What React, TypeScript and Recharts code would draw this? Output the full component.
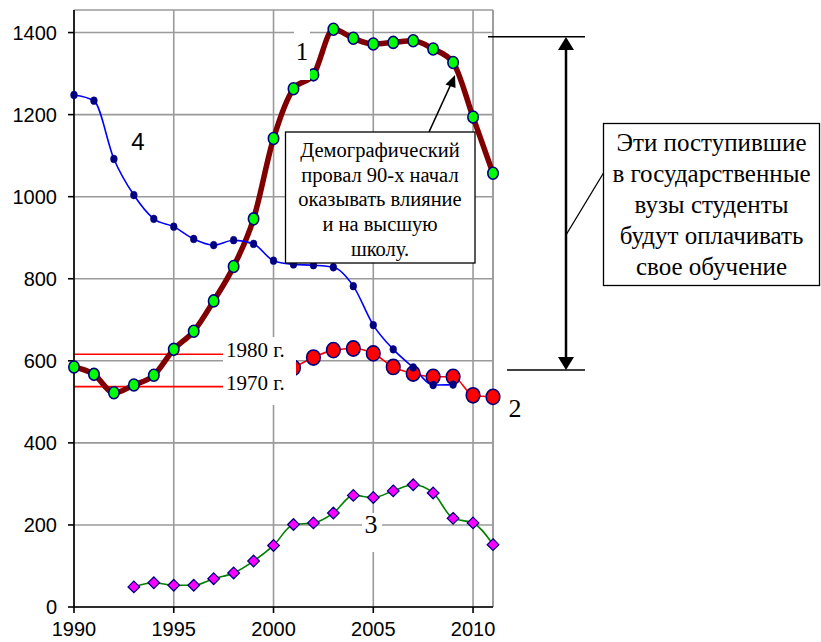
import React from "react";
import {
  LineChart,
  Line,
  XAxis,
  YAxis,
  CartesianGrid,
  ReferenceLine,
} from "recharts";

const years = [1990, 1991, 1992, 1993, 1994, 1995, 1996, 1997, 1998, 1999, 2000, 2001, 2002, 2003, 2004, 2005, 2006, 2007, 2008, 2009, 2010, 2011];
const series1 = [585, 567, 522, 541, 565, 628, 672, 746, 830, 946, 1142, 1263, 1297, 1408, 1386, 1372, 1376, 1380, 1360, 1327, 1194, 1057];
const series2 = [null, null, null, null, null, null, null, null, null, null, null, 583, 608, 626, 630, 618, 585, 569, 561, 561, 516, 512];
const series3 = [null, null, null, 49, 59, 53, 53, 69, 83, 112, 150, 201, 205, 229, 272, 267, 283, 298, 278, 216, 205, 152];
const series4 = [1248, 1234, 1092, 1004, 946, 927, 897, 882, 894, 885, 844, 835, 833, 828, 782, 687, 628, 584, 541, 542, null, null];
const xTicks = [1990, 1995, 2000, 2005, 2010];
const yTicks = [0, 200, 400, 600, 800, 1000, 1200, 1400];
const level1980 = 616;
const level1970 = 537;

const data = years.map((y, i) => ({
  year: y,
  s1: series1[i],
  s2: series2[i],
  s3: series3[i],
  s4: series4[i],
}));

const SERIF = "'Liberation Serif', 'Times New Roman', serif";
const SANS = "'Liberation Sans', Arial, sans-serif";

const ellipseDot = (rx: number, ry: number, fill: string, stroke: string, sw: number) => (props: any) => {
  const { cx, cy, value, index } = props;
  if (value == null || cy == null || isNaN(cy)) return <g key={`e-${index}`} />;
  return <ellipse key={`e-${index}`} cx={cx} cy={cy} rx={rx} ry={ry} fill={fill} stroke={stroke} strokeWidth={sw} />;
};

const diamondDot = (props: any) => {
  const { cx, cy, value, index } = props;
  if (value == null || cy == null || isNaN(cy)) return <g key={`d-${index}`} />;
  const s = 5.8;
  return (
    <polygon
      key={`d-${index}`}
      points={`${cx},${cy - s} ${cx + s},${cy} ${cx},${cy + s} ${cx - s},${cy}`}
      fill="#ff00ff"
      stroke="#000080"
      strokeWidth={1.3}
    />
  );
};

export default function App() {
  return (
    <div style={{ position: "absolute", left: 0, top: 0, width: 821, height: 642, background: "#fff" }}>
      <LineChart
        width={821}
        height={642}
        data={data}
        margin={{ top: 10, right: 328, bottom: 5, left: 10 }}
      >
        <CartesianGrid stroke="#9a9a9a" strokeWidth={1.6} />
        <XAxis
          dataKey="year"
          type="number"
          domain={[1990, 2011]}
          ticks={xTicks}
          height={30}
          tickSize={6}
          tickMargin={9}
          stroke="#000"
          strokeWidth={1.6}
          tick={{ fill: "#000", fontSize: 20, fontFamily: SANS }}
          interval={0}
        />
        <YAxis
          type="number"
          domain={[0, 1455]}
          ticks={yTicks}
          width={64}
          tickSize={6}
          tickMargin={11}
          stroke="#000"
          strokeWidth={1.6}
          tick={{ fill: "#000", fontSize: 20, fontFamily: SANS }}
          interval={0}
        />
        <ReferenceLine x={2011} stroke="#9a9a9a" strokeWidth={1.6} />
        <ReferenceLine
          segment={[{ x: 1990, y: level1980 }, { x: 1997.5, y: level1980 }]}
          stroke="#ff0000"
          strokeWidth={1.6}
        />
        <ReferenceLine
          segment={[{ x: 1990, y: level1970 }, { x: 1997.5, y: level1970 }]}
          stroke="#ff0000"
          strokeWidth={1.6}
        />
        <Line
          dataKey="s3"
          type="monotone"
          stroke="#008000"
          strokeWidth={1.6}
          dot={diamondDot}
          isAnimationActive={false}
        />
        <Line
          dataKey="s2"
          type="monotone"
          stroke="#ff0000"
          strokeWidth={1.6}
          dot={ellipseDot(6.8, 7.6, "#ff0000", "#000080", 1.6)}
          isAnimationActive={false}
        />
        <Line
          dataKey="s1"
          type="monotone"
          stroke="#800000"
          strokeWidth={5.5}
          dot={ellipseDot(5.2, 6, "#00ff00", "#000080", 1.6)}
          isAnimationActive={false}
        />
        <Line
          dataKey="s4"
          type="monotone"
          stroke="#0000ff"
          strokeWidth={1.6}
          dot={ellipseDot(3.4, 3.9, "#000080", "#000080", 0.5)}
          isAnimationActive={false}
        />
      </LineChart>
      <svg
        width={821}
        height={642}
        style={{ position: "absolute", left: 0, top: 0, pointerEvents: "none" }}
      >
        {/* 1980 / 1970 labels */}
        <rect x={223} y={337} width={73} height={68} fill="#fff" />
        <text x={226} y={357} fontFamily={SERIF} fontSize={21} fill="#000">1980 г.</text>
        <text x={226} y={390} fontFamily={SERIF} fontSize={21} fill="#000">1970 г.</text>

        {/* series labels */}
        <rect x={294} y={28} width={16} height={52} fill="#fff" />
        <text x={302} y={60} textAnchor="middle" fontFamily={SERIF} fontSize={25} fill="#000">1</text>
        <text x={138} y={150} textAnchor="middle" fontFamily={SANS} fontSize={24} fill="#000">4</text>
        <rect x={362} y={513} width={20} height={39} fill="#fff" />
        <text x={371} y={533} textAnchor="middle" fontFamily={SERIF} fontSize={26} fill="#000">3</text>
        <text x={515} y={417} textAnchor="middle" fontFamily={SERIF} fontSize={26} fill="#000">2</text>

        {/* Box 1 with arrow */}
        <line x1={429} y1={132} x2={451} y2={84} stroke="#000" strokeWidth={1.6} />
        <polygon points="455,75 445.5,84.5 455.5,88" fill="#000" />
        <rect x={285.5} y={132} width={189.5} height={131} fill="#fff" stroke="#000" strokeWidth={1.3} />
        {["Демографический", "провал 90-х начал", "оказывать влияние", "и на высшую", "школу."].map((t, i) => (
          <text key={i} x={380} y={157 + i * 24.7} textAnchor="middle" fontFamily={SERIF} fontSize={20.5} fill="#000">
            {t}
          </text>
        ))}

        {/* Vertical double arrow */}
        <line x1={488} y1={36.7} x2={585} y2={36.7} stroke="#000" strokeWidth={1.6} />
        <line x1={507} y1={370} x2={585} y2={370} stroke="#000" strokeWidth={1.6} />
        <line x1={566} y1={48} x2={566} y2={358} stroke="#000" strokeWidth={2.5} />
        <polygon points="566,37 558,50 574,50" fill="#000" />
        <polygon points="566,370 558,357 574,357" fill="#000" />

        {/* Box 2 */}
        <line x1={566} y1={235} x2={603.5} y2={173} stroke="#000" strokeWidth={1.3} />
        <rect x={603.5} y={123.5} width={216} height={162} fill="#fff" stroke="#000" strokeWidth={1.3} />
        {["Эти поступившие", "в государственные", "вузы студенты", "будут оплачивать", "свое обучение"].map((t, i) => (
          <text key={i} x={711.5} y={151 + i * 31} textAnchor="middle" fontFamily={SERIF} fontSize={25} fill="#000">
            {t}
          </text>
        ))}
      </svg>
    </div>
  );
}
